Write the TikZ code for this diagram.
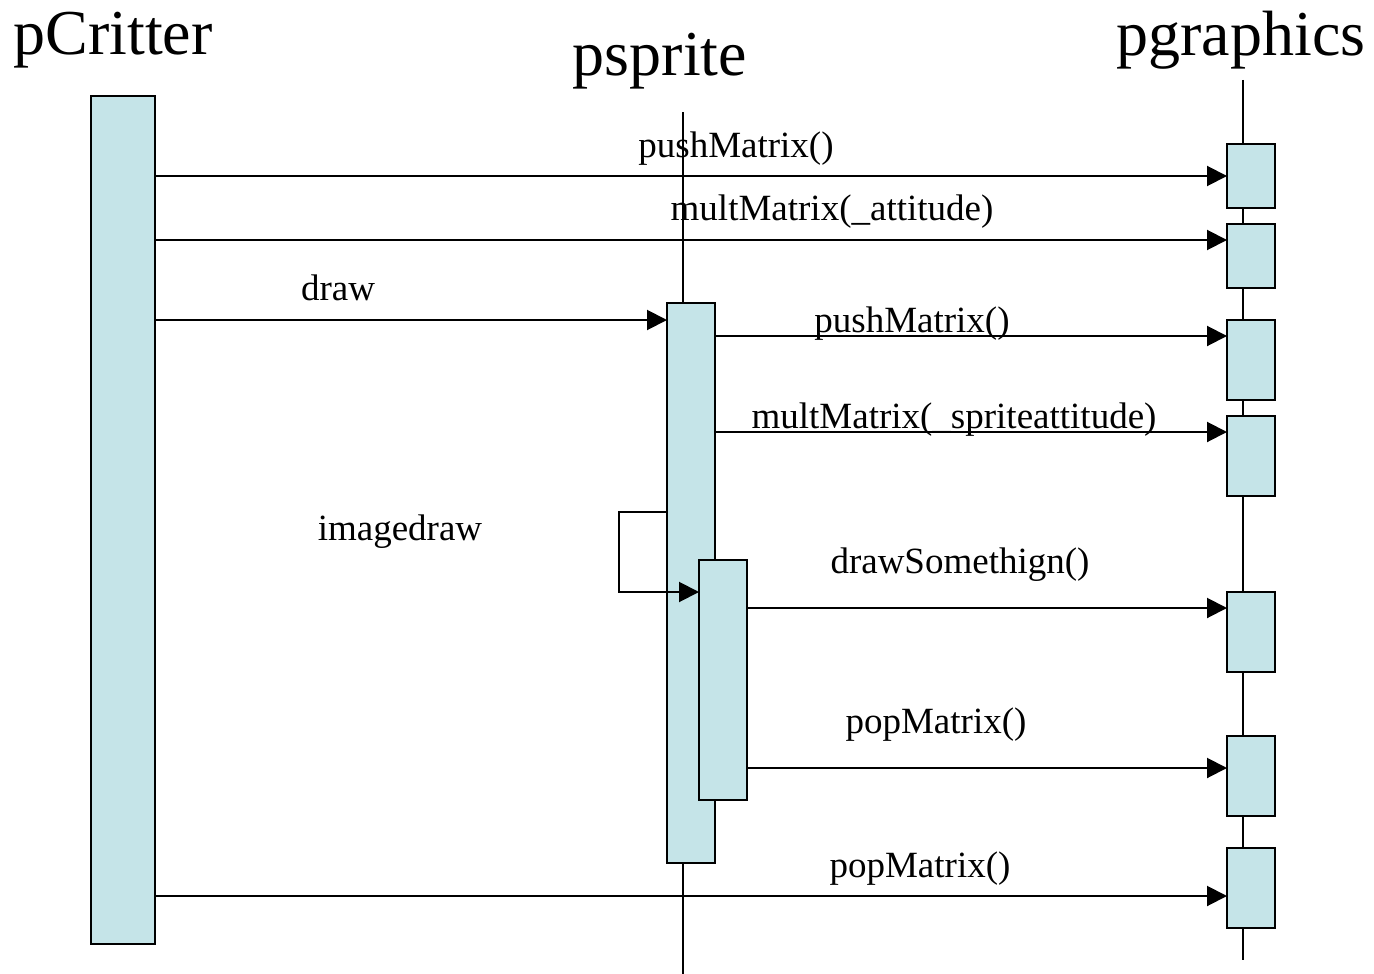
\documentclass[tikz,border=0pt]{standalone}
\usepackage{fontspec}
\setmainfont{Liberation Serif}
\usetikzlibrary{arrows.meta}
\definecolor{actfill}{RGB}{197,228,232}
\tikzset{
  act/.style={draw=black, fill=actfill, line width=2pt, inner sep=0pt, outer sep=0pt},
  life/.style={draw=black, line width=2pt},
  msg/.style={draw=black, line width=2pt, -{Triangle[length=20pt,width=20pt]}},
  lbl/.style={anchor=base, inner sep=0pt, font=\fontsize{37}{40}\selectfont},
  ttl/.style={anchor=base, inner sep=0pt, font=\fontsize{64}{70}\selectfont}
}
\begin{document}
\begin{tikzpicture}[x=1pt,y=-1pt]
\useasboundingbox (0,0) rectangle (1374,974);
% titles
\node[ttl] (tc) at (113,55) {pCritter};
\node[ttl] (ts) at (660,75) {psprite};
\node[ttl] (tg) at (1241,56) {pgraphics};
% labels
\node[lbl] (l1) at (736,157) {pushMatrix()};
\node[lbl] (l2) at (832,220) {multMatrix(\_attitude)};
\node[lbl] (l3) at (338,300) {draw};
\node[lbl] (l4) at (912,332) {pushMatrix()};
\node[lbl] (l5) at (954,428) {multMatrix(\_spriteattitude)};
\node[lbl] (l6) at (400,540) {imagedraw};
\node[lbl] (l7) at (960,573) {drawSomethign()};
\node[lbl] (l8) at (936,733) {popMatrix()};
\node[lbl] (l9) at (920,877) {popMatrix()};
% lifelines
\coordinate (stop) at (683,112);
\coordinate (sbot) at (683,974);
\coordinate (gtop) at (1243,80);
\coordinate (gbot) at (1243,960);
\draw[life] (stop) -- (sbot);
\draw[life] (gtop) -- (gbot);
% activations
\node[act, minimum width=64pt, minimum height=848pt] (pc) at (123,520) {};
\node[act, minimum width=48pt, minimum height=560pt] (ps) at (691,583) {};
\node[act, minimum width=48pt, minimum height=240pt] (pn) at (723,680) {};
\node[act, minimum width=48pt, minimum height=64pt] (g1) at (1251,176) {};
\node[act, minimum width=48pt, minimum height=64pt] (g2) at (1251,256) {};
\node[act, minimum width=48pt, minimum height=80pt] (g3) at (1251,360) {};
\node[act, minimum width=48pt, minimum height=80pt] (g4) at (1251,456) {};
\node[act, minimum width=48pt, minimum height=80pt] (g5) at (1251,632) {};
\node[act, minimum width=48pt, minimum height=80pt] (g6) at (1251,776) {};
\node[act, minimum width=48pt, minimum height=80pt] (g7) at (1251,888) {};
% messages
\draw[msg] (pc.east |- 0,176) -- (g1.west |- 0,176);
\draw[msg] (pc.east |- 0,240) -- (g2.west |- 0,240);
\draw[msg] (pc.east |- 0,320) -- (ps.west |- 0,320);
\draw[msg] (ps.east |- 0,336) -- (g3.west |- 0,336);
\draw[msg] (ps.east |- 0,432) -- (g4.west |- 0,432);
\draw[msg] (ps.west |- 0,512) -- (619,512) -- (619,592) -- (pn.west |- 0,592);
\draw[msg] (pn.east |- 0,608) -- (g5.west |- 0,608);
\draw[msg] (pn.east |- 0,768) -- (g6.west |- 0,768);
\draw[msg] (pc.east |- 0,896) -- (g7.west |- 0,896);
\end{tikzpicture}
\end{document}
